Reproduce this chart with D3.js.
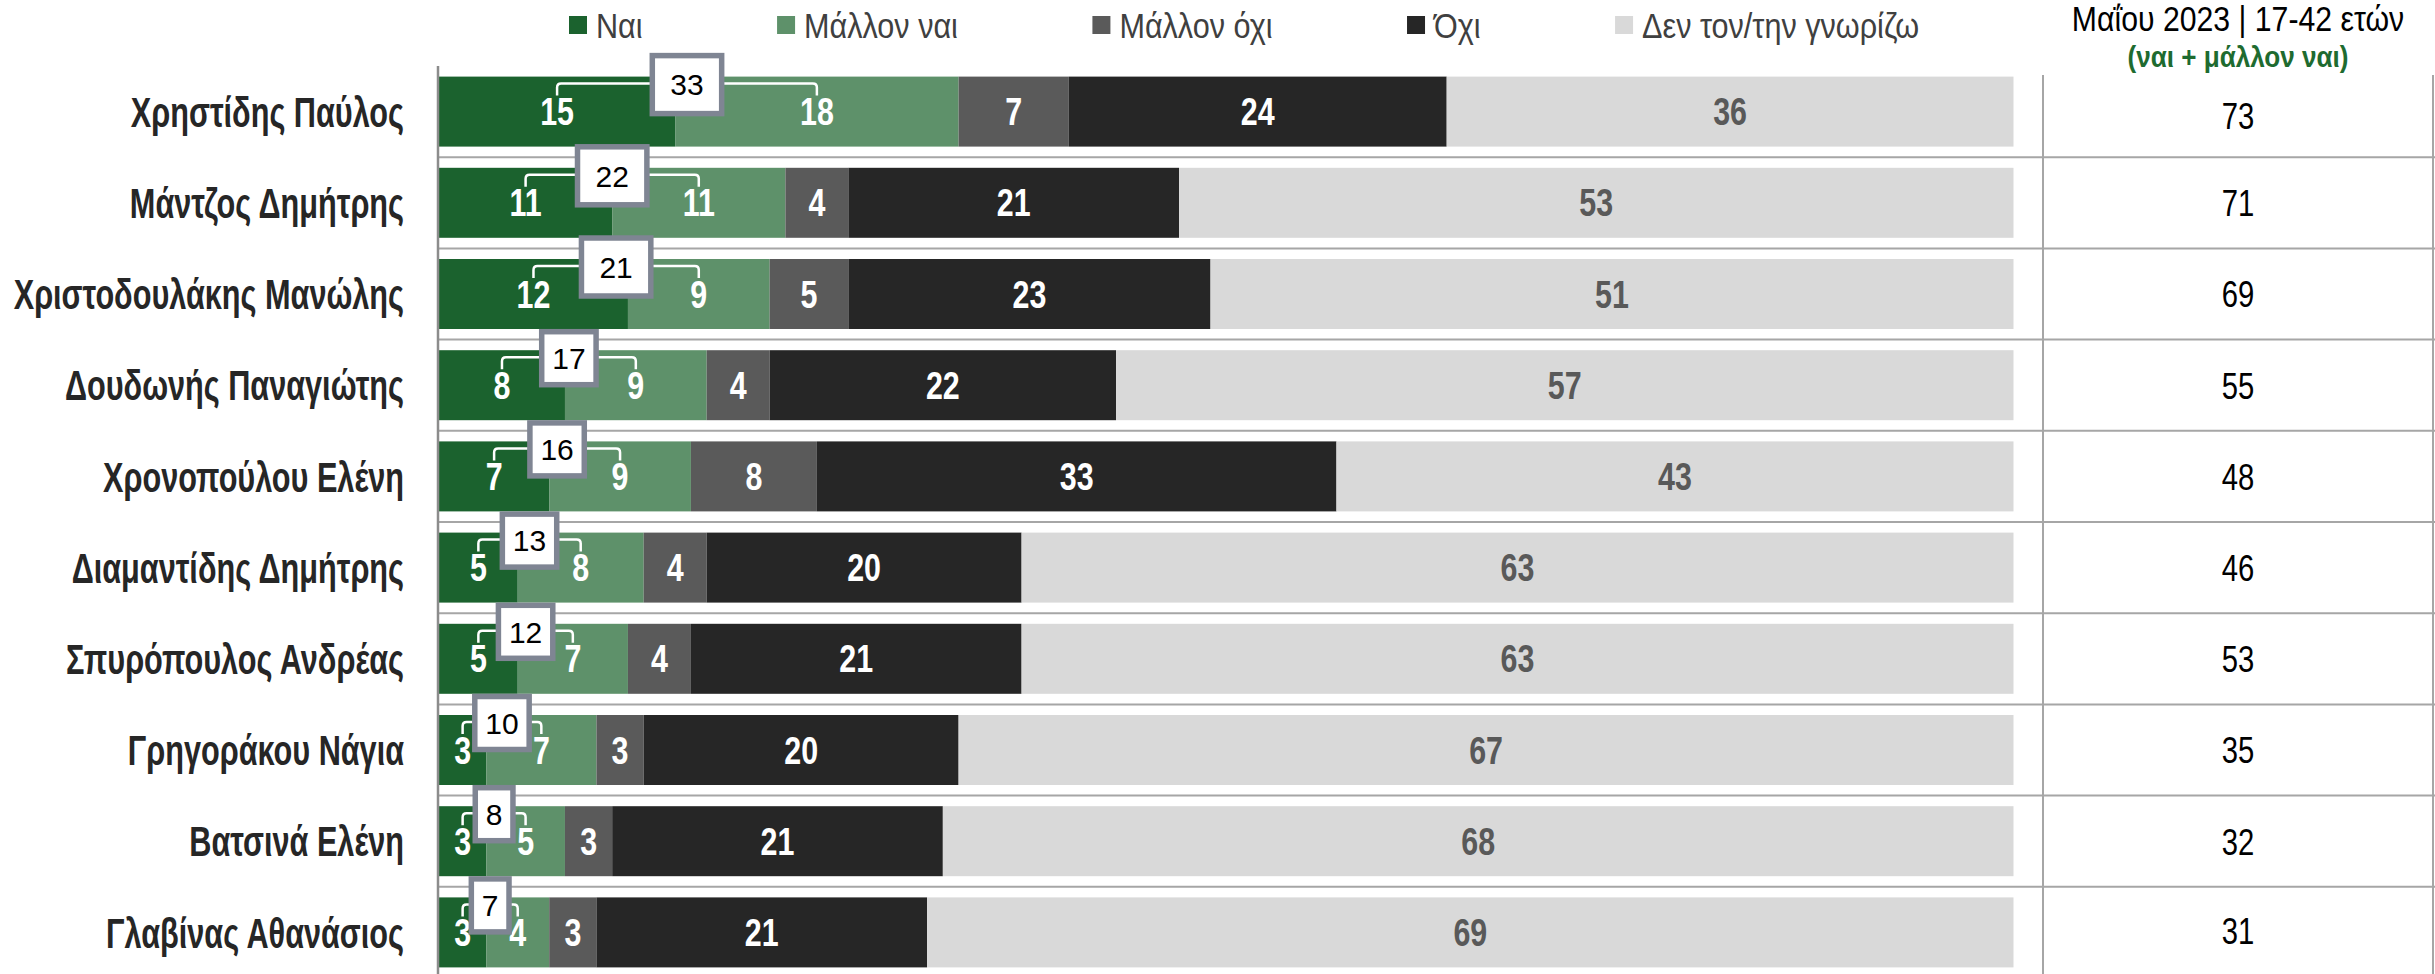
<!DOCTYPE html>
<html><head><meta charset="utf-8">
<script src="https://cdn.jsdelivr.net/npm/d3@7"></script>
<style>html,body{margin:0;padding:0;background:#fff;overflow:hidden}</style>
</head><body><svg id="c" width="2435" height="974"></svg>
<script>
// ---------------- DATA ----------------
const categories = ["Χρηστίδης Παύλος","Μάντζος Δημήτρης","Χριστοδουλάκης Μανώλης","Δουδωνής Παναγιώτης","Χρονοπούλου Ελένη","Διαμαντίδης Δημήτρης","Σπυρόπουλος Ανδρέας","Γρηγοράκου Νάγια","Βατσινά Ελένη","Γλαβίνας Αθανάσιος"];
const seriesNames = ["Ναι","Μάλλον ναι","Μάλλον όχι","Όχι","Δεν τον/την γνωρίζω"];
const nai        = [15,11,12, 8, 7, 5, 5, 3, 3, 3];
const mallonNai  = [18,11, 9, 9, 9, 8, 7, 7, 5, 4];
const mallonOxi  = [ 7, 4, 5, 4, 8, 4, 4, 3, 3, 3];
const oxi        = [24,21,23,22,33,20,21,20,21,21];
const denGnorizo = [36,53,51,57,43,63,63,67,68,69];
const positiveTotals = [33,22,21,17,16,13,12,10,8,7];
const may2023Values  = [73,71,69,55,48,46,53,35,32,31];
const columnTitle = "Μαΐου 2023 | 17-42 ετών";
const columnSubtitle = "(ναι + μάλλον ναι)";

// ---------------- STYLE ----------------
const colors = ["#1b622e","#5e916a","#5a5a5a","#262626","#d9d9d9"];
const labelColors = ["#ffffff","#ffffff","#ffffff","#ffffff","#595959"];
const FONT = "'Liberation Sans', Arial, sans-serif";
const W = 2435, H = 974;

const svg = d3.select("#c");
const keys = ["nai","mallonNai","mallonOxi","oxi","den"];
const rows = categories.map((c,i)=>({cat:c, nai:nai[i], mallonNai:mallonNai[i], mallonOxi:mallonOxi[i], oxi:oxi[i], den:denGnorizo[i], total:positiveTotals[i], col:may2023Values[i]}));
const stacked = d3.stack().keys(keys)(rows);

const x = d3.scaleLinear().domain([0,100]).range([439, 2013.5]);
const y = d3.scaleBand().domain(categories).range([66, 978]).paddingInner(0.2325).paddingOuter(0.11625);
const step = y.step(), bw = y.bandwidth(), gap = step - bw;

const colLeft = 2043, colRight = 2433, colMid = (colLeft + colRight)/2;

// separators
const seps = categories.slice(1).map(c => y(c) - gap/2);
svg.append("g").selectAll("line").data(seps).join("line")
  .attr("x1", 438).attr("x2", W).attr("y1", d=>d).attr("y2", d=>d)
  .attr("stroke", "#a6a6a6").attr("stroke-width", 2);

// bars
const gBars = svg.append("g");
stacked.forEach((s, si) => {
  gBars.append("g").selectAll("rect").data(s).join("rect")
    .attr("x", d => x(d[0])).attr("width", d => x(d[1]) - x(d[0]))
    .attr("y", d => y(d.data.cat)).attr("height", bw)
    .attr("fill", colors[si]);
});

// axis line (vertical)
svg.append("line").attr("x1",438).attr("x2",438).attr("y1",66).attr("y2",H)
  .attr("stroke","#8c8c8c").attr("stroke-width",2.5);

// category labels
const yAxis = d3.axisLeft(y).tickSize(0).tickPadding(0);
const gy = svg.append("g").attr("transform","translate(404,0)").call(yAxis);
gy.select(".domain").remove();
gy.selectAll(".tick text")
  .attr("x", 0).attr("dy", "0.36em")
  .attr("transform", "scale(0.73,1)")
  .style("font-family", FONT).style("font-size","42px").style("font-weight","bold")
  .attr("fill","#262626").attr("text-anchor","end");

// segment labels
stacked.forEach((s, si) => {
  svg.append("g").selectAll("text").data(s).join("text")
    .attr("transform", d => `translate(${(x(d[0])+x(d[1]))/2},${y(d.data.cat)+bw/2}) scale(0.8,1)`)
    .attr("dy","0.36em").attr("text-anchor","middle")
    .style("font-family", FONT).style("font-size","38px").style("font-weight","bold")
    .attr("fill", labelColors[si])
    .text(d => d[1]-d[0]);
});

// brackets + total boxes
const gTot = svg.append("g");
rows.forEach((r, i) => {
  const top = y(r.cat);
  const x1 = (x(0) + x(r.nai))/2;
  const x2 = (x(r.nai) + x(r.nai + r.mallonNai))/2;
  const yl = top + 7, yb = top + 19, rr = 4;
  gTot.append("path")
    .attr("d", `M${x1},${yb} V${yl+rr} Q${x1},${yl} ${x1+rr},${yl} H${x2-rr} Q${x2},${yl} ${x2},${yl+rr} V${yb}`)
    .attr("fill","none").attr("stroke","#ffffff").attr("stroke-width",2.5);
  const cx = (x1 + x2)/2, cy = top + 8;
  const t = gTot.append("text").attr("x", cx).attr("y", cy).attr("dy","0.36em")
    .attr("text-anchor","middle")
    .style("font-family", FONT).style("font-size","30px").attr("fill","#000")
    .text(r.total);
  const tw = t.node().getComputedTextLength();
  const big = r.total >= 20;
  const bwid = tw + 2*(big ? 18 : 10.5), bh = big ? 58 : 53;
  gTot.insert("rect", function(){ return t.node(); })
    .attr("x", cx - bwid/2 - 1.5).attr("y", cy - bh/2 + 1.5).attr("width", bwid).attr("height", bh)
    .attr("fill","#1c2a22").attr("opacity",0.45);
  gTot.insert("rect", function(){ return t.node(); })
    .attr("x", cx - bwid/2).attr("y", cy - bh/2).attr("width", bwid).attr("height", bh)
    .attr("fill","#ffffff").attr("stroke","#7f8593").attr("stroke-width",5.5);
});

// right column
svg.append("line").attr("x1",colLeft).attr("x2",colLeft).attr("y1",75).attr("y2",H)
  .attr("stroke","#a6a6a6").attr("stroke-width",2);
svg.append("line").attr("x1",colRight).attr("x2",colRight).attr("y1",75).attr("y2",H)
  .attr("stroke","#a6a6a6").attr("stroke-width",2);
const cellTops = [75].concat(seps), cellBots = seps.concat([H]);
svg.append("g").selectAll("text").data(rows).join("text")
  .attr("transform", (d,i) => `translate(${colMid},${(cellTops[i]+cellBots[i])/2}) scale(0.79,1)`)
  .attr("dy","0.36em").attr("text-anchor","middle")
  .style("font-family", FONT).style("font-size","37px").attr("fill","#000")
  .text(d => d.col);

svg.append("text").attr("transform",`translate(${colMid},31) scale(0.84,1)`)
  .attr("text-anchor","middle").style("font-family",FONT).style("font-size","36px").attr("fill","#000")
  .text(columnTitle);
svg.append("text").attr("transform",`translate(${colMid},67) scale(0.87,1)`)
  .attr("text-anchor","middle").style("font-family",FONT).style("font-size","30px").style("font-weight","bold")
  .attr("fill","#1e6b30").text(columnSubtitle);

// legend
const gLeg = svg.append("g");
let lx = 569;
const legSx = 0.85;
seriesNames.forEach((name, i) => {
  gLeg.append("rect").attr("x", lx).attr("y", 16).attr("width", 18).attr("height", 18).attr("fill", colors[i]);
  const t = gLeg.append("text").attr("transform", `translate(${lx+27},37.7) scale(${legSx},1)`)
    .style("font-family",FONT).style("font-size","36px").attr("fill","#404040").text(name);
  const w = t.node().getComputedTextLength() * legSx;
  lx = lx + 27 + w + 134.5;
});
</script></body></html>
